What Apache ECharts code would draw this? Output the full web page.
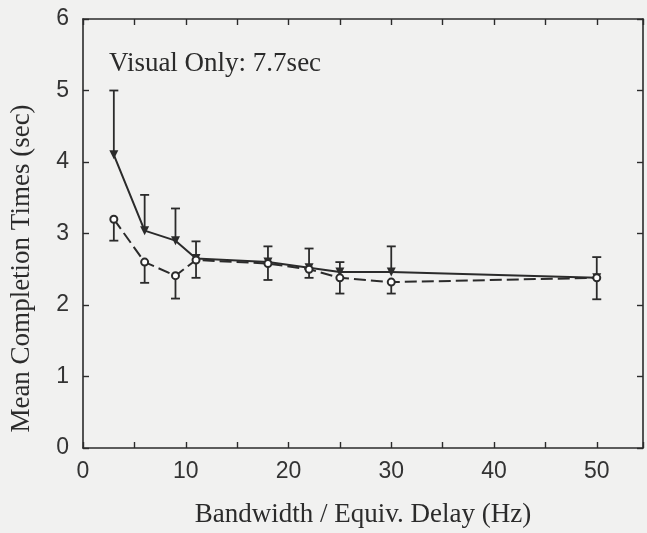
<!DOCTYPE html>
<html>
<head>
<meta charset="utf-8">
<script src="https://cdn.jsdelivr.net/npm/echarts@6/dist/echarts.min.js"></script>
<style>html,body{margin:0;padding:0;background:#f1f1f0;}#c{width:647px;height:533px;}</style>
</head>
<body>
<div id="c"></div>
<script>
const bandwidth = [3, 6, 9, 11, 18, 22, 25, 30, 50];
const solidMean = [4.1, 3.04, 2.9, 2.65, 2.6, 2.52, 2.46, 2.46, 2.38];
const solidUpper = [5.0, 3.54, 3.35, 2.89, 2.82, 2.79, 2.60, 2.82, 2.67];
const dashedMean = [3.2, 2.6, 2.41, 2.63, 2.58, 2.5, 2.38, 2.32, 2.38];
const dashedLower = [2.9, 2.31, 2.09, 2.38, 2.35, 2.38, 2.16, 2.16, 2.08];
const xTicks = [0, 10, 20, 30, 40, 50];
const yTicks = [0, 1, 2, 3, 4, 5, 6];
const annotation = 'Visual Only: 7.7sec';

const ink = '#2b2b2b';
const serif = '"Liberation Serif", "DejaVu Serif", serif';
const sans = '"Liberation Sans", Arial, sans-serif';

function pairs(xs, ys) { return xs.map((x, i) => [x, ys[i]]); }
function errData(xs, a, b) { return xs.map((x, i) => [x, a[i], b[i]]); }

function errRender(params, api) {
  const x = api.value(0);
  const p1 = api.coord([x, api.value(1)]);
  const p2 = api.coord([x, api.value(2)]);
  const hw = 4.5;
  const st = { stroke: ink, lineWidth: 1.8 };
  return {
    type: 'group',
    children: [
      { type: 'line', shape: { x1: p1[0], y1: p1[1], x2: p2[0], y2: p2[1] }, style: st },
      { type: 'line', shape: { x1: p2[0] - hw, y1: p2[1], x2: p2[0] + hw, y2: p2[1] }, style: st }
    ]
  };
}

const axisLine = { show: true, onZero: false, lineStyle: { color: ink, width: 1.6 } };
const axisTick = { show: true, inside: true, length: 6, lineStyle: { color: ink, width: 1.4 } };
const xMax = 54.5;

const chart = echarts.init(document.getElementById('c'), null, { renderer: 'canvas' });
chart.setOption({
  backgroundColor: '#f1f1f0',
  animation: false,
  title: {
    text: annotation, left: 104, top: 45,
    textStyle: { fontFamily: serif, fontSize: 27, fontWeight: 'normal', color: ink }
  },
  grid: { left: 82, top: 19, right: 4, bottom: 82, containLabel: false },
  xAxis: [{
    type: 'value', min: 0, max: xMax, interval: 5, position: 'bottom',
    name: 'Bandwidth / Equiv. Delay (Hz)', nameLocation: 'middle', nameGap: 53,
    nameTextStyle: { fontFamily: serif, fontSize: 27, color: ink },
    axisLine: axisLine, axisTick: axisTick,
    axisLabel: {
      color: '#333', fontFamily: sans, fontSize: 23, margin: 12,
      formatter: v => (xTicks.indexOf(v) >= 0 ? String(v) : '')
    },
    splitLine: { show: false }
  }, {
    type: 'value', min: 0, max: xMax, interval: 5, position: 'top',
    axisLine: axisLine, axisTick: axisTick,
    axisLabel: { show: false }, splitLine: { show: false }
  }],
  yAxis: [{
    type: 'value', min: 0, max: 6, interval: 1, position: 'left',
    name: 'Mean Completion Times (sec)', nameLocation: 'middle', nameGap: 48,
    nameTextStyle: { fontFamily: serif, fontSize: 27, color: ink, padding: [0, 70, 0, 0] },
    axisLine: axisLine, axisTick: axisTick,
    axisLabel: {
      color: '#333', fontFamily: sans, fontSize: 23, margin: 14,
      formatter: v => (yTicks.indexOf(v) >= 0 ? String(v) : '')
    },
    splitLine: { show: false }
  }, {
    type: 'value', min: 0, max: 6, interval: 1, position: 'right',
    axisLine: axisLine, axisTick: axisTick,
    axisLabel: { show: false }, splitLine: { show: false }
  }],
  series: [
    {
      type: 'custom', renderItem: errRender, data: errData(bandwidth, solidMean, solidUpper),
      encode: { x: 0, y: [1, 2] }, z: 1
    },
    {
      type: 'custom', renderItem: errRender, data: errData(bandwidth, dashedMean, dashedLower),
      encode: { x: 0, y: [1, 2] }, z: 1
    },
    {
      type: 'line', data: pairs(bandwidth, solidMean), z: 3,
      symbol: 'triangle', symbolRotate: 180, symbolSize: 9,
      itemStyle: { color: ink },
      lineStyle: { color: ink, width: 2 }
    },
    {
      type: 'line', data: pairs(bandwidth, dashedMean), z: 3,
      symbol: 'emptyCircle', symbolSize: 7,
      itemStyle: { color: ink, borderColor: ink, borderWidth: 1.8 },
      lineStyle: { color: ink, width: 2, type: [12, 5] }
    }
  ]
});
</script>
</body>
</html>
